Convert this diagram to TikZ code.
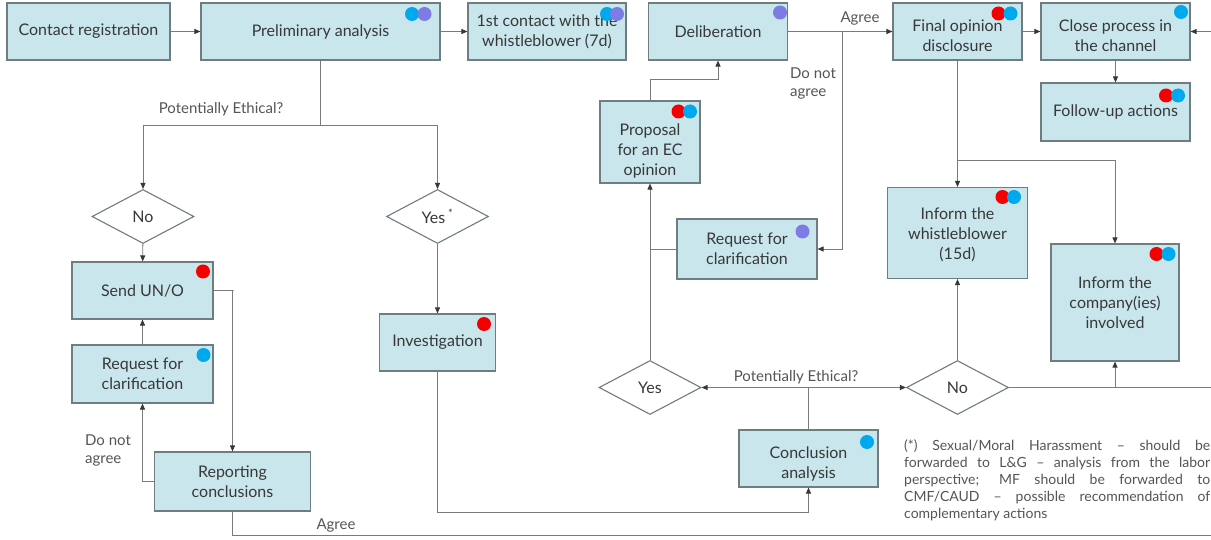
\documentclass[tikz,border=0pt]{standalone}
\usepackage{fontspec}
\setmainfont{Lato}
\usetikzlibrary{arrows.meta,shapes.geometric,calc}
\definecolor{boxfill}{HTML}{C9E6EC}
\definecolor{boxline}{HTML}{6F7C80}
\definecolor{wirec}{HTML}{7A7A7A}
\definecolor{txt}{HTML}{383838}
\definecolor{lblc}{HTML}{555555}
\definecolor{dblue}{HTML}{00A8EE}
\definecolor{dpurple}{HTML}{7C7CE4}
\definecolor{dred}{HTML}{F40000}
\tikzset{
  box/.style={draw=boxline,fill=boxfill,line width=1.1pt,align=center,text=txt,
    font=\fontsize{16}{20}\selectfont,inner sep=0pt},
  boxtxt/.style={align=center,text=txt,font=\fontsize{16}{20}\selectfont,inner sep=0pt},
  dia/.style={diamond,draw=boxline,fill=white,line width=1.1pt,aspect=1.8,inner sep=0pt,
    text=txt,font=\fontsize{16}{20}\selectfont,minimum width=102pt,minimum height=54pt},
  wire/.style={draw=wirec,line width=0.9pt},
  arr/.style={wire,-{Triangle[length=6pt,width=5pt,color=txt]}},
  lbl/.style={text=lblc,font=\fontsize{15}{18}\selectfont,align=left,inner sep=0pt}
}
\begin{document}
\begin{tikzpicture}[x=1pt,y=-1pt]
\fill[white] (0,0) rectangle (1211,540);
\useasboundingbox (0,0) rectangle (1211,540);
% top row
\node[box,minimum width=163pt,minimum height=57pt] (contact) at (88.5,31.5) {Contact registration};
\node[box,minimum width=239pt,minimum height=57pt] (prelim) at (320.5,31.5) {Preliminary analysis};
\node[box,minimum width=158pt,minimum height=57pt] (first) at (547,31.5) {1st contact with the\\whistleblower (7d)};
\node[box,minimum width=139pt,minimum height=57pt] (delib) at (718,31.5) {Deliberation};
\node[box,minimum width=129pt,minimum height=57pt,
  label={[boxtxt,yshift=-4pt]center:{Final opinion\\disclosure}}] (final) at (957.5,31.5) {};
\node[box,minimum width=149pt,minimum height=57pt,
  label={[boxtxt,yshift=-4pt]center:{Close process in\\the channel}}] (close) at (1115.5,31.5) {};
\node[box,minimum width=149pt,minimum height=58pt] (follow) at (1115.5,112) {Follow-up actions};
% right middle
\node[box,minimum width=100pt,minimum height=82pt,
  label={[boxtxt,yshift=-9pt]center:{Proposal\\for an EC\\opinion}}] (prop) at (650,142) {};
\node[box,minimum width=140pt,minimum height=60pt] (reqR) at (747,249) {Request for\\clarification};
\node[box,minimum width=140pt,minimum height=91pt,
  label={[boxtxt,yshift=-2pt]center:{Inform the\\whistleblower\\(15d)}}] (informW) at (957.5,233) {};
\node[box,minimum width=128pt,minimum height=117pt] (informC) at (1115,302.5) {Inform the\\company(ies)\\involved};
\node[dia,minimum width=102pt] (yesR) at (650,387.5) {Yes};
\node[dia,minimum width=102pt] (noR) at (957.5,387.5) {No};
\node[box,minimum width=139pt,minimum height=57pt,
  label={[boxtxt,yshift=-5pt]center:{Conclusion\\analysis}}] (concl) at (808.5,458.5) {};
% left
\node[dia] (noL) at (143,216.5) {No};
\node[dia] (yesL) at (437.5,216.5) {Yes\,\textsuperscript{*}};
\node[box,minimum width=141pt,minimum height=57pt] (send) at (142.5,290.5) {Send UN/O};
\node[box,minimum width=141pt,minimum height=58pt] (reqL) at (142.5,374) {Request for\\clarification};
\node[box,minimum width=156pt,minimum height=59pt] (report) at (232.5,481.5) {Reporting\\conclusions};
\node[box,minimum width=116pt,minimum height=57pt] (invest) at (437.5,342.5) {Investigation};
% free ends at the right edge
\coordinate (eR1) at (1211,31.5);
\coordinate (eR2) at (1211,387.5);
\coordinate (eR3) at (1211,535);
\coordinate (dj) at (842,31.5);
% labels
\node[lbl] (pelL) at (221,109) {Potentially Ethical?};
\node[lbl] (pelR) at (796,377) {Potentially Ethical?};
\node[lbl] (dnaL) at (108,450) {Do not\\agree};
\node[lbl] (dnaR) at (813,83) {Do not\\agree};
\node[lbl] (agR) at (860,18) {Agree};
\node[lbl] (agL) at (336,525) {Agree};
\node[anchor=north west,inner sep=0pt,text=lblc,font=\fontsize{14}{17}\selectfont,align=left] (note) at (904,439)
 {\makebox[306pt][s]{(*) Sexual/Moral Harassment – should be}\\
  \makebox[306pt][s]{forwarded to L\&G – analysis from the labor}\\
  \makebox[306pt][s]{perspective; MF should be forwarded to}\\
  \makebox[306pt][s]{CMF/CAUD – possible recommendation of}\\
  complementary actions};
% connectors top
\draw[arr] (contact) -- (prelim);
\draw[arr] (prelim) -- (first);
\draw[arr] (delib) -- (final);
\draw[arr] (final) -- (close);
\draw[arr] (eR1) -- (close.east);
\draw[arr] (close) -- (follow);
\draw[arr] (dj) |- (reqR.east);
\draw[arr] (prop.north) -- ++(0,-21) -| (delib.south);
\draw[arr] (yesR) -- (prop);
\draw[wire] (reqR.west) -- (reqR.west -| prop.south);
\draw[arr] (final) -- (informW);
\draw[arr] ($(final.south)+(0,100)$) -| (informC.north);
\draw[arr] (concl.north) |- (yesR.east);
\draw[arr] (concl.north) |- (noR.west);
\draw[arr] (noR) -- (informW);
\draw[wire] (noR.east) -- (eR2);
\draw[arr] (noR.east -| informC.south) -- (informC.south);
% connectors left
\draw[arr] (prelim.south) -- ++(0,65) -| (noL.north);
\draw[arr] (prelim.south) -- ++(0,65) -| (yesL.north);
\draw[arr] (noL) -- (send);
\draw[arr] (reqL) -- (send);
\draw[arr] (send.east) -- ++(20,0) -| (report.north);
\draw[arr] (report.west) -| (reqL.south);
\draw[arr] (yesL) -- (invest);
\draw[arr] (invest.south) -- ++(0,141) -| (concl.south);
\draw[wire] (report.south) |- (eR3);
% dots
\fill[dblue] (412,14) circle (7);
\fill[dpurple] (424.5,14) circle (7);
\fill[dblue] (607,14) circle (7);
\fill[dpurple] (617,14) circle (7);
\fill[dpurple] (780,12.5) circle (7);
\fill[dred] (998.5,13.5) circle (7);
\fill[dblue] (1010.5,13.5) circle (7);
\fill[dblue] (1181,12) circle (7);
\fill[dred] (1166,95.5) circle (7);
\fill[dblue] (1178,95.5) circle (7);
\fill[dred] (678.5,111.5) circle (7);
\fill[dblue] (690,111.5) circle (7);
\fill[dpurple] (802.5,231.5) circle (7);
\fill[dred] (1002.5,197) circle (7);
\fill[dblue] (1014,197) circle (7);
\fill[dred] (1156.5,254) circle (7);
\fill[dblue] (1168.5,254) circle (7);
\fill[dblue] (867,442) circle (7);
\fill[dred] (203,271.5) circle (7);
\fill[dblue] (203.5,355) circle (7);
\fill[dred] (484,324) circle (7);
\end{tikzpicture}
\end{document}
